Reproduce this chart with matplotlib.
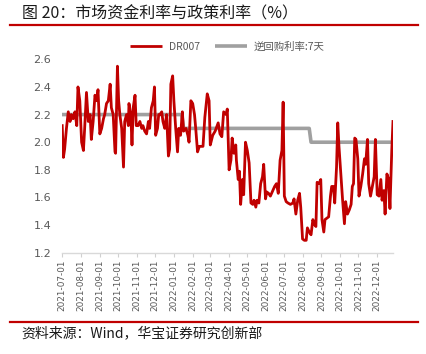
import matplotlib
matplotlib.use("Agg")
import matplotlib.pyplot as plt
import matplotlib.dates as mdates
import numpy as np
import pandas as pd

plt.rcParams['font.family'] = ['Noto Sans CJK SC', 'DejaVu Sans']

start_date = "2021-07-01"
# DR007 observations: days since 2021-07-01 and rate (%)
dr_days = [0, 2, 4, 7, 10, 13, 15, 18, 21, 24, 26, 29, 32, 35, 37, 40, 43, 46, 48, 51,
           54, 57, 59, 62, 65, 68, 70, 73, 76, 79, 81, 84, 87, 88, 91, 93, 95, 98, 101, 103,
           106, 109, 110, 113, 115, 117, 120, 122, 125, 128, 131, 133, 136, 139, 142, 144, 147, 150, 152, 154,
           157, 159, 161, 164, 166, 169, 172, 175, 177, 179, 182, 184, 187, 190, 192, 195, 198, 200, 204, 207,
           209, 212, 215, 218, 220, 223, 226, 229, 232, 235, 239, 242, 244, 248, 252, 257, 260, 263, 266, 270,
           272, 275, 278, 280, 283, 286, 287, 290, 292, 294, 297, 299, 302, 305, 308, 311, 314, 316, 319, 321,
           324, 327, 330, 332, 335, 337, 340, 343, 347, 350, 353, 356, 359, 362, 364, 366, 369, 372, 376, 380,
           382, 385, 388, 391, 393, 396, 399, 402, 404, 407, 410, 413, 415, 418, 420, 423, 426, 428, 431, 433,
           436, 439, 442, 444, 447, 449, 452, 454, 456, 459, 462, 465, 467, 470, 473, 476, 478, 480, 482, 484,
           487, 489, 492, 495, 498, 500, 503, 505, 508, 511, 514, 516, 519, 522, 525, 527, 530, 532, 535, 538,
           540, 543, 545]
dr_vals = [2.12, 1.89, 1.95, 2.10, 2.22, 2.15, 2.20, 2.17, 2.22, 2.12, 2.40, 2.30, 2.00, 1.94, 2.10, 2.36, 2.15, 2.20, 2.02, 2.15,
           2.34, 2.30, 2.38, 2.06, 2.10, 2.17, 2.20, 2.28, 2.30, 2.42, 2.25, 2.20, 1.93, 1.92, 2.55, 2.30, 2.20, 2.10, 1.82, 2.15,
           2.20, 2.12, 2.28, 2.20, 1.98, 2.25, 2.34, 2.12, 2.12, 2.15, 2.10, 2.12, 2.08, 2.06, 2.15, 2.10, 2.25, 2.30, 2.40, 2.05,
           2.10, 2.20, 2.20, 2.22, 2.15, 2.10, 2.20, 1.90, 1.95, 2.42, 2.48, 2.30, 2.10, 1.93, 2.10, 2.05, 2.22, 2.08, 2.10, 2.05,
           2.00, 2.30, 2.28, 2.20, 2.10, 1.93, 1.97, 1.97, 1.97, 2.18, 2.35, 2.30, 1.98, 2.05, 2.08, 2.14, 2.06, 2.04, 2.22, 2.20,
           2.24, 1.80, 1.87, 2.03, 1.92, 1.98, 1.87, 1.73, 1.79, 1.55, 1.73, 1.62, 2.00, 1.94, 1.85, 1.56, 1.55, 1.58, 1.53, 1.58,
           1.56, 1.70, 1.75, 1.84, 1.59, 1.64, 1.63, 1.61, 1.65, 1.68, 1.70, 1.63, 1.87, 1.94, 2.29, 1.61, 1.57, 1.56, 1.55, 1.56,
           1.59, 1.48, 1.58, 1.63, 1.53, 1.30, 1.29, 1.29, 1.38, 1.35, 1.33, 1.44, 1.41, 1.39, 1.71, 1.70, 1.73, 1.44, 1.35, 1.44,
           1.45, 1.46, 1.61, 1.68, 1.68, 1.56, 1.82, 2.14, 1.97, 1.77, 1.58, 1.41, 1.57, 1.48, 1.51, 1.55, 1.68, 1.70, 2.03, 2.02,
           1.88, 1.61, 1.68, 1.77, 1.88, 1.84, 2.02, 1.70, 1.61, 1.68, 1.75, 2.02, 1.62, 1.61, 1.73, 1.58, 1.65, 1.48, 1.77, 1.73,
           1.52, 1.94, 2.15]

# 7-day reverse repo rate (%)
rr_dates = ["2021-07-01", "2022-01-14", "2022-01-17", "2022-08-12", "2022-08-15", "2022-12-28"]
rr_vals = [2.2, 2.2, 2.1, 2.1, 2.0, 2.0]

y_ticks = [1.2, 1.4, 1.6, 1.8, 2.0, 2.2, 2.4, 2.6]
x_tick_dates = pd.date_range("2021-07-01", "2022-12-01", freq="MS")

title = "图 20：市场资金利率与政策利率（%）"
source = "资料来源：Wind，华宝证券研究创新部"
label_dr = "DR007"
label_rr = "逆回购利率:7天"

RED = "#C00000"
GRAY = "#A0A0A0"
TXT = "#595959"

dr_dates = pd.Timestamp(start_date) + pd.to_timedelta(dr_days, unit="D")
rr_dt = pd.to_datetime(rr_dates)

fig = plt.figure(figsize=(4.26, 3.54), dpi=100)
ax = fig.add_axes([0.146, 0.286, 0.9225 - 0.146, 0.8325 - 0.286])

ax.plot(dr_dates, dr_vals, color=RED, lw=2.0, label=label_dr, zorder=3)
ax.plot(rr_dt, rr_vals, color=GRAY, lw=2.6, label=label_rr, zorder=2)

ax.set_ylim(1.2, 2.6)
ax.set_yticks(y_ticks)
ax.set_yticklabels([f"{v:.1f}" for v in y_ticks], family="DejaVu Sans", fontsize=8, color=TXT)
ax.set_xlim(pd.Timestamp("2021-07-01"), pd.Timestamp("2022-12-28"))
ax.set_xticks(x_tick_dates)
ax.set_xticklabels([d.strftime("%Y-%m-%d") for d in x_tick_dates], rotation=90,
                   family="DejaVu Sans", fontsize=6.4, color=TXT)
ax.tick_params(axis="y", length=0, pad=8)
ax.tick_params(axis="x", length=3, color="#D0D0D0", pad=2)
for s in ["top", "right", "left"]:
    ax.spines[s].set_visible(False)
ax.spines["bottom"].set_color("#D9D9D9")
ax.spines["bottom"].set_linewidth(1.0)

leg = ax.legend(loc="lower center", bbox_to_anchor=(0.5, 1.0), ncol=2, frameon=False,
                prop={"family": "Noto Sans CJK SC", "size": 7.5},
                handlelength=3.0, columnspacing=1.5, handletextpad=0.7,
                borderaxespad=0.3)
for t in leg.get_texts():
    t.set_color(TXT)
for h in leg.get_lines():
    h.set_solid_capstyle("butt")

fig.text(22 / 426, 1 - 14 / 354, title, fontsize=11.5, color="#1a1a1a", ha="left", va="center")
fig.add_artist(plt.Line2D([10 / 426, 418 / 426], [1 - 25.3 / 354] * 2, color=RED, lw=1.6))
fig.add_artist(plt.Line2D([10 / 426, 418 / 426], [1 - 322 / 354] * 2, color=RED, lw=1.6))
fig.text(21 / 426, 1 - 333 / 354, source, fontsize=10, color="#1a1a1a", ha="left", va="center")

fig.savefig("out.png", dpi=100)
